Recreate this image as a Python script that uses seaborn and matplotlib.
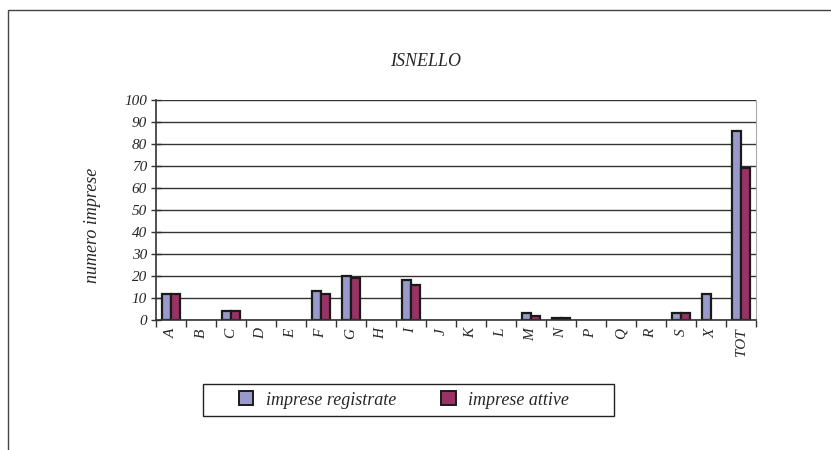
import pandas as pd
import matplotlib
matplotlib.use("Agg")
import matplotlib.pyplot as plt
import seaborn as sns
from matplotlib.patches import Rectangle

categories = ["A", "B", "C", "D", "E", "F", "G", "H", "I", "J", "K", "L",
              "M", "N", "P", "Q", "R", "S", "X", "TOT"]
registrate = [12, 0, 4, 0, 0, 13, 20, 0, 18, 0, 0, 0, 3, 1, 0, 0, 0, 3, 12, 86]
attive = [12, 0, 4, 0, 0, 12, 19, 0, 16, 0, 0, 0, 2, 1, 0, 0, 0, 3, 0, 69]
series_names = ["imprese registrate", "imprese attive"]
colors = ["#9999CC", "#993366"]

df = pd.DataFrame({
    "settore": categories * 2,
    "valore": registrate + attive,
    "serie": [series_names[0]] * len(categories) + [series_names[1]] * len(categories),
})

sns.set_style("white")
plt.rcParams["font.family"] = ["Liberation Serif", "DejaVu Serif"]
plt.rcParams["font.style"] = "italic"

W, H = 831, 450
fig = plt.figure(figsize=(W / 100, H / 100), dpi=100)
ax = fig.add_axes([156 / W, 1 - 320 / H, 600 / W, 220 / H])

sns.barplot(data=df, x="settore", y="valore", hue="serie", order=categories,
            hue_order=series_names, palette=colors, width=0.62,
            edgecolor="#1a1a1a", linewidth=1.6, saturation=1, ax=ax)

# zero bars are not drawn in the original
for p in ax.patches:
    if p.get_height() == 0:
        p.set_linewidth(0)

ax.set_ylim(0, 100)
ax.set_xlim(-0.5, len(categories) - 0.5)
ax.set_yticks(range(0, 101, 10))
ax.yaxis.grid(True, color="#333333", linewidth=1)
ax.set_axisbelow(True)
ax.set_xlabel("")
ax.set_ylabel("numero imprese", fontsize=13, style="italic")
ax.yaxis.set_label_coords((101 - 156) / 600, (320 - 225) / 220)
ax.set_title("ISNELLO", fontsize=13, style="italic", x=(426 - 156) / 600, y=1.0, pad=24.5)

ax.spines["top"].set_visible(False)
ax.spines["left"].set_color("#333333")
ax.spines["bottom"].set_color("#333333")
ax.spines["right"].set_color("#aaaaaa")
ax.spines["left"].set_linewidth(1.2)
ax.spines["bottom"].set_linewidth(1.2)

ax.set_xticks(range(len(categories)))
ax.set_xticklabels(categories, rotation=90, fontsize=11, style="italic")
ax.set_xticks([i - 0.5 for i in range(len(categories) + 1)], minor=True)
ax.tick_params(axis="x", which="major", bottom=True, length=0, pad=6)
ax.tick_params(axis="x", which="minor", bottom=True, length=5, width=1,
               color="#333333", direction="out")
ax.tick_params(axis="y", left=True, length=7, width=1, color="#333333",
               direction="inout", labelsize=11, pad=3)
for lbl in ax.get_yticklabels():
    lbl.set_style("italic")

ax.get_legend().remove()
handles = [Rectangle((0, 0), 1, 1, facecolor=c, edgecolor="#1a1a1a", linewidth=1.4) for c in colors]
leg = fig.legend(handles, series_names, ncol=2, loc="center",
                 bbox_to_anchor=(404 / W, 1 - 400 / H),
                 frameon=False,
                 prop={"family": "Liberation Serif", "style": "italic", "size": 13},
                 handlelength=0.8, handleheight=0.8, columnspacing=2.5,
                 borderpad=0, borderaxespad=0, handletextpad=0.7)
# legend box as in the original
fig.add_artist(Rectangle((203 / W, 1 - 416 / H), 411 / W, 32 / H,
                         transform=fig.transFigure, fill=False,
                         edgecolor="#222222", linewidth=1))

fig.add_artist(Rectangle((8 / W, -0.1), 1.0, 1.1 - 10 / H,
                         transform=fig.transFigure, fill=False,
                         edgecolor="#444444", linewidth=1, clip_on=False))

fig.savefig("out.png", dpi=100)
